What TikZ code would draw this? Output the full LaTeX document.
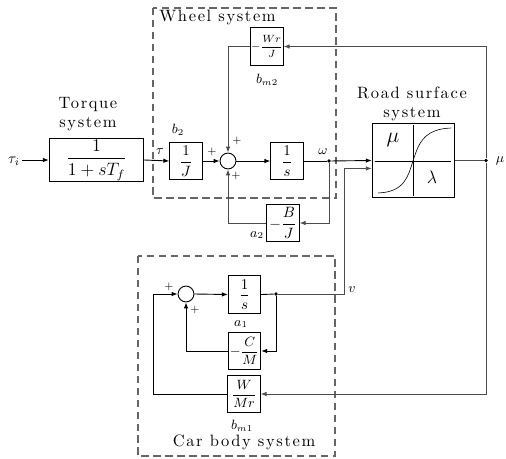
\documentclass[tikz,border=0pt]{standalone}
\usepackage{fontspec}
\usepackage{amsmath}
\usetikzlibrary{arrows.meta}
\newfontfamily\spacedfont[LetterSpace=10]{lmroman10-regular.otf}

\tikzset{
  blk/.style={draw, line width=0.75pt, inner sep=0pt, minimum width=21.5pt, minimum height=25pt},
  sumnode/.style={draw, circle, inner sep=0pt, minimum size=10.6pt},
  sig/.style={-{Latex[length=4pt,width=3pt]}},
  fb/.style={black!70},
  title/.style={font=\spacedfont\fontsize{11}{12.5}\selectfont, align=center, inner sep=0pt},
  dashbox/.style={draw=black!60, thick, dash pattern=on 5pt off 3pt},
  dot/.style={circle, fill, inner sep=0pt, minimum size=2.5pt}
}

\begin{document}
\begin{tikzpicture}[x=0.0235cm, y=-0.0235cm, line width=0.6pt]
	\useasboundingbox (0,0) rectangle (506,458);
	% frames
	\draw [dashbox] (153,8) rectangle (336,198);
	\draw [dashbox] (138,256) rectangle (335,456);
	\node [title, anchor=west] (wheeltxt) at (159,17) {Wheel system};
	\node [title] (torquetxt) at (88,114) {Torque\\system};
	\node [title] (roadtxt) at (412,104) {Road surface\\system};
	\node [title] (cartxt) at (244,442) {Car body system};

	% blocks
	\node [blk, minimum width=63pt, minimum height=29pt] (torque) at (96.5,160) {\large$\dfrac{1}{1+sT_f}$};
	\node [blk] (invJ) at (186,161) {$\dfrac{1}{J}$};
	\node [sumnode] (sumw) at (228,161) {};
	\node [blk] (integw) at (287,161) {$\dfrac{1}{s}$};
	\node [blk] (wrj) at (267,46.5) {\scriptsize$-\dfrac{Wr}{J}$};
	\node [blk] (bj) at (283,223) {$-\dfrac{B}{J}$};
	\node [blk, minimum width=55pt, minimum height=50pt] (road) at (413.5,160.5) {};
	\node [sumnode] (suml) at (186,294) {};
	\node [blk] (integv) at (244.5,294.5) {$\dfrac{1}{s}$};
	\node [blk] (cm) at (244.5,351) {\small$-\dfrac{C}{M}$};
	\node [blk] (wmr) at (244,394) {\small$\dfrac{W}{Mr}$};

	% road surface curve
	\draw [thin] (375,161) -- (451,161);
	\draw [thin] (413,125) -- (413,196);
	\draw [thin] (378,193) .. controls (405,192) and (408,176) .. (413,161) .. controls (418,146) and (422,129) .. (451,128);
	\node (mulbl) at (393,140) {\Large$\mu$};
	\node (lamlbl) at (432,177) {\large$\lambda$};

	% junctions
	\coordinate (tauin) at (22,160);
	\node [dot] (jw) at (329,161) {};
	\node [dot] (jmu) at (486,160.5) {};
	\node [dot] (jv) at (276,294) {};
	\coordinate (vc) at (344,294);
	\coordinate (wl) at (153,394);

	% signals
	\draw [sig] (tauin) -- (torque.west);
	\draw [sig] (torque.east) -- (invJ.west);
	\draw [sig] (invJ.east) -- (sumw.west);
	\draw [sig] (sumw.east) -- (integw.west);
	\draw (integw.east) -- (jw);
	\draw [sig] (jw) -- (road.west);
	\draw [sig, fb] (jw) |- (bj.east);
	\draw [sig, fb] (bj.west) -| (sumw.south);
	\draw [fb] (road.east) -- (jmu);
	\draw [sig, fb] (jmu) |- (wrj.east);
	\draw [sig, fb] (wrj.west) -| (sumw.north);
	\draw [sig, fb] (jmu) |- (wmr.east);
	\draw [sig] (wmr.west) -- (wl) |- (suml.west);
	\draw [sig] (suml.east) -- (integv.west);
	\draw (integv.east) -- (jv);
	\draw [sig, fb] (jv) -- (vc) |- ([yshift=-5.3pt]road.west);
	\draw [sig] (jv) |- (cm.east);
	\draw [sig] (cm.west) -| (suml.south);

	% labels
	\node (taui) at (14,161) {$\tau_i$};
	\node (tau) at (160,152) {\small$\tau$};
	\node (omega) at (323,152) {\small$\omega$};
	\node (vlbl) at (352,290) {\small$v$};
	\node (mulbl2) at (500,161) {\small$\mu$};
	\node (b2) at (178,130) {\small$b_2$};
	\node (bm2) at (267,80) {\small$b_{m2}$};
	\node (a2) at (257,235) {\small$a_2$};
	\node (a1) at (241,324) {\small$a_1$};
	\node (bm1) at (242,426) {\small$b_{m1}$};
	\node (p1) at (212,152) {\scriptsize$+$};
	\node (p2) at (237,141) {\scriptsize$+$};
	\node (p3) at (236,176) {\scriptsize$+$};
	\node (p4) at (169,287) {\scriptsize$+$};
	\node (p5) at (195,310) {\scriptsize$+$};
\end{tikzpicture}
\end{document}
